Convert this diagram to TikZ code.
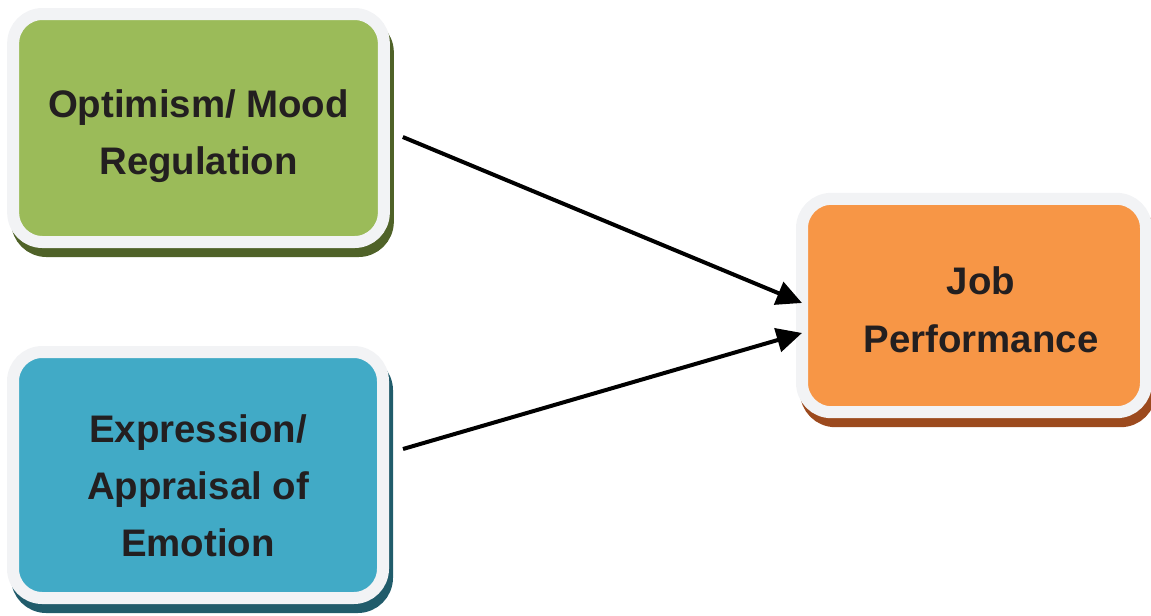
\documentclass[tikz,border=0pt]{standalone}
\usepackage{fontspec}
\setmainfont{Liberation Sans}
\usetikzlibrary{arrows.meta}
\definecolor{rim}{HTML}{F2F3F5}
\definecolor{optfill}{HTML}{9BBB59}
\definecolor{optshade}{HTML}{4F6228}
\definecolor{exprfill}{HTML}{41AAC6}
\definecolor{exprshade}{HTML}{215C6B}
\definecolor{jobfill}{HTML}{F79646}
\definecolor{jobshade}{HTML}{9C4A1E}
\definecolor{ink}{HTML}{231F20}
\begin{document}
\begin{tikzpicture}[x=0.75pt, y=-0.75pt]
    % Node styles
    \tikzstyle{box} = [draw=rim, line width=9pt, outer sep=0pt, rounded corners=22pt,
        align=center, font=\fontsize{28.8}{43}\selectfont\bfseries, text=ink]
    \tikzstyle{shade} = [preaction={draw=#1, fill=#1,
        transform canvas={xshift=3pt, yshift=-6.75pt}}]
    \tikzstyle{link} = [line width=3pt, -{Triangle[length=19pt, width=18pt]}]

    \useasboundingbox (0,0) rectangle (1151,615);

    % Nodes
    \node[box, shade=optshade, fill=optfill, minimum width=278pt, minimum height=171pt,
        text height=76.5pt] (opt) at (198.5,128) {Optimism/ Mood\\Regulation};
    \node[box, shade=exprshade, fill=exprfill, minimum width=277.5pt, minimum height=184.5pt,
        text height=123pt] (expr) at (198,475) {Expression/\\Appraisal of\\Emotion};
    \node[box, shade=jobshade, fill=jobfill, minimum width=258pt, minimum height=160pt,
        text height=70.5pt] (job) at (974,305.5)
        {\hspace*{10.5pt}Job\\\hspace*{10.5pt}Performance};

    % Edges
    \draw[link] ([xshift=14.25pt, yshift=-6.75pt]opt.east) -- ([yshift=1.9pt]job.west);
    \draw[link] ([xshift=15pt, yshift=19.5pt]expr.east) -- ([yshift=-20.6pt]job.west);

\end{tikzpicture}
\end{document}
